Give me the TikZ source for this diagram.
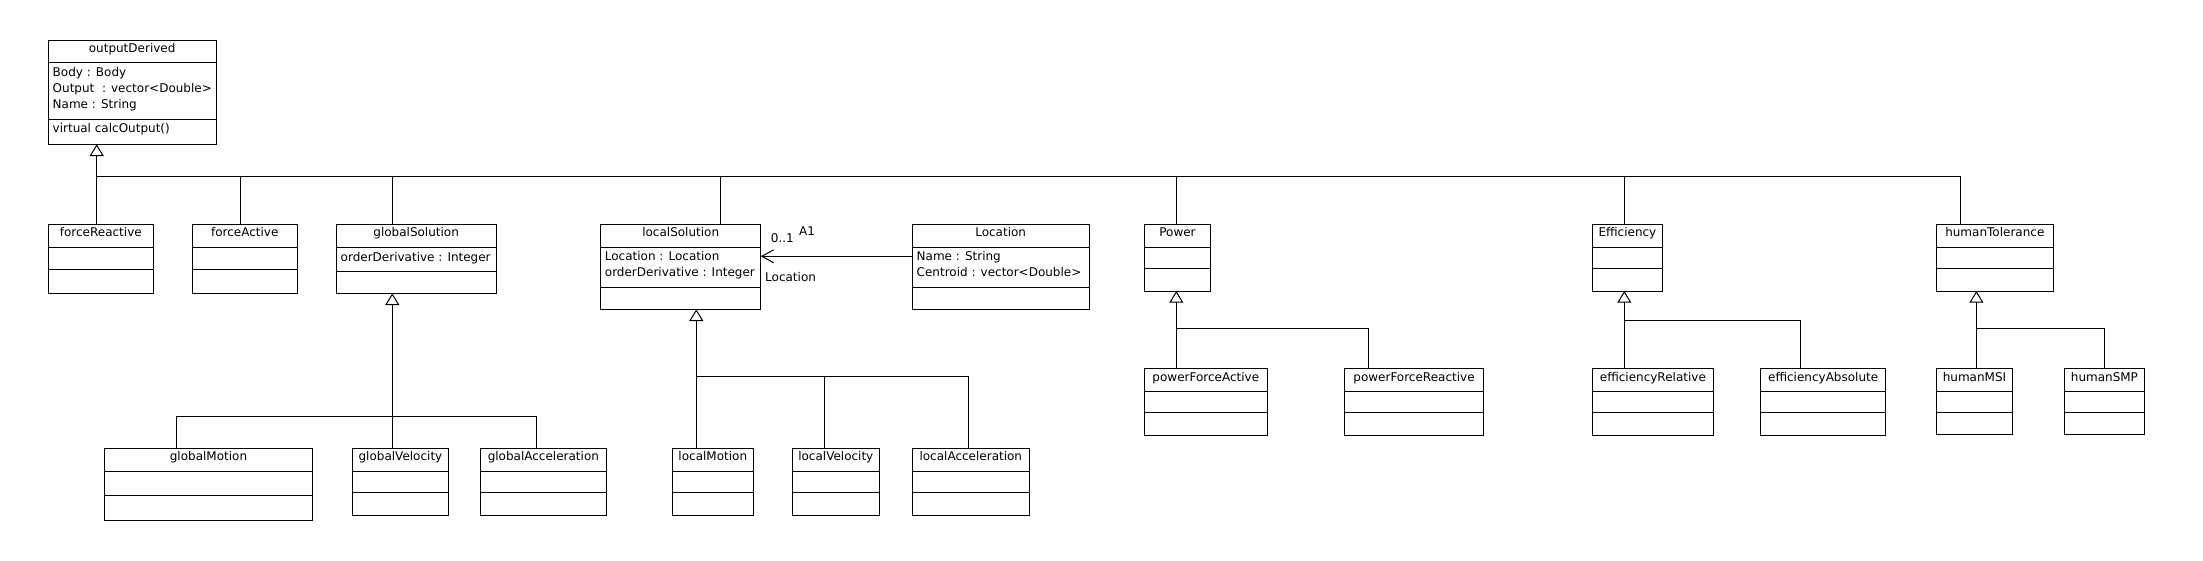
\documentclass[tikz,border=0pt]{standalone}
\usepackage{fontspec}
\newfontfamily\umlfont{DejaVu Sans}
\usetikzlibrary{arrows.meta}
\tikzset{
  cbox/.style={draw, line width=1pt, inner sep=0pt, outer sep=0pt, fill=white},
  ctitle/.style={anchor=base, inner sep=0pt, font={\umlfont\fontsize{12}{14}\selectfont}},
  cattr/.style={anchor=base west, inner sep=0pt, font={\umlfont\fontsize{12}{14}\selectfont}},
  sepline/.style={line width=1pt},
  conn/.style={line width=1pt},
  gen/.style={conn, -{Triangle[open,length=11.7pt,width=14pt]}},
  assoc/.style={conn, -{Straight Barb[length=12pt,width=13pt]}},
}
\newcommand\umlbox[8]{%
  \node[cbox, minimum width={#4-#2}, minimum height={#5-#3}] (#1) at ({(#2+#4)/2},{(#3+#5)/2}) {};
  \draw[sepline] (#2,#6) -- (#4,#6) (#2,#7) -- (#4,#7);
  \node[ctitle] (#1-title) at ({(#2+#4)/2},{#3+12.5}) {#8};
}
\newcommand\umlattr[4]{\node[cattr] (#1) at (#2,#3) {#4};}
\begin{document}
\begin{tikzpicture}[x=1pt,y=-1pt]
\fill[white] (0,0) rectangle (2203,560);
\useasboundingbox (0,0) rectangle (2203,560);

% classes
\umlbox{od}{48.3}{40}{216}{144.3}{62.7}{119.3}{outputDerived}
\umlattr{od-a1}{52.5}{76.2}{Body : Body}
\umlattr{od-a2}{52.5}{92.2}{Output\ \ : vector<Double>}
\umlattr{od-a3}{52.5}{108.2}{Name : String}
\umlattr{od-m1}{52.5}{132}{virtual calcOutput()}

\umlbox{fr}{48.3}{224.3}{153.3}{293.3}{247.3}{269.3}{forceReactive}
\umlbox{fa}{192.3}{224.3}{297.3}{293.3}{247.3}{269.3}{forceActive}
\umlbox{gs}{336.3}{224.3}{496}{293.3}{247.3}{271.7}{globalSolution}
\umlattr{gs-a1}{340.5}{261}{orderDerivative : Integer}
\umlbox{ls}{600.7}{224.3}{760.7}{309.3}{247}{287}{localSolution}
\umlattr{ls-a1}{604.7}{260.5}{Location : Location}
\umlattr{ls-a2}{604.7}{276.5}{orderDerivative : Integer}
\umlbox{loc}{912.3}{224.3}{1089}{309.3}{247}{287}{Location}
\umlattr{loc-a1}{916.5}{260.5}{Name : String}
\umlattr{loc-a2}{916.5}{276.5}{Centroid : vector<Double>}
\umlbox{pw}{1144.3}{224.3}{1210.7}{291}{247.3}{268.3}{Power}
\umlbox{ef}{1592.2}{224.3}{1662.6}{291}{247.3}{268.3}{Efficiency}
\umlbox{ht}{1936.2}{224.3}{2053.4}{291}{247.3}{268.3}{humanTolerance}

\umlbox{gm}{104.5}{448.3}{312.5}{520}{471}{495.7}{globalMotion}
\umlbox{gv}{352.4}{448.3}{448.5}{515.3}{471}{492.7}{globalVelocity}
\umlbox{ga}{480.2}{448.3}{606.5}{515.3}{471}{492.7}{globalAcceleration}
\umlbox{lm}{672.3}{448.3}{753.3}{515.3}{471}{492.3}{localMotion}
\umlbox{lv}{792.3}{448.3}{879.3}{515.3}{471}{492.3}{localVelocity}
\umlbox{la}{912.3}{448.3}{1029.3}{515.3}{471}{492.3}{localAcceleration}
\umlbox{pfa}{1144.3}{368.7}{1267.3}{435.3}{391.7}{412.3}{powerForceActive}
\umlbox{pfr}{1344.3}{368.7}{1483.7}{435.3}{391.7}{412.3}{powerForceReactive}
\umlbox{er}{1592.2}{368.7}{1713.5}{435.3}{391.7}{412.3}{efficiencyRelative}
\umlbox{ea}{1760.6}{368.7}{1885.7}{435.3}{391.7}{412.3}{efficiencyAbsolute}
\umlbox{hm}{1936.2}{368.7}{2012.8}{434}{391.7}{412.3}{humanMSI}
\umlbox{hs}{2064.8}{368.7}{2144}{434}{391.7}{412.3}{humanSMP}

% generalization: outputDerived
\coordinate (odb) at (96.7,176);
\draw[gen] (odb) -- (od.south -| 96.7,0);
\draw[conn] (96.7,0 |- fr.north) -- (odb);
\draw[conn] (240.3,0 |- fa.north) |- (odb);
\draw[conn] (392.3,0 |- gs.north) |- (odb);
\draw[conn] (720.3,0 |- ls.north) |- (odb);
\draw[conn] (1176.3,0 |- pw.north) |- (odb);
\draw[conn] (1624.3,0 |- ef.north) |- (odb);
\draw[conn] (1960.4,0 |- ht.north) |- (odb);

% globalSolution
\coordinate (gsb) at (392.3,416);
\draw[gen] (gsb) -- (gs.south -| 392.3,0);
\draw[conn] (176.4,0 |- gm.north) |- (gsb);
\draw[conn] (392.3,0 |- gv.north) -- (gsb);
\draw[conn] (536.6,0 |- ga.north) |- (gsb);

% localSolution
\coordinate (lsb) at (696.3,376.5);
\draw[gen] (lsb) -- (ls.south -| 696.3,0);
\draw[conn] (696.3,0 |- lm.north) -- (lsb);
\draw[conn] (824,0 |- lv.north) |- (lsb);
\draw[conn] (968.3,0 |- la.north) |- (lsb);

% Power
\coordinate (pwb) at (1176.3,328.3);
\draw[gen] (pwb) -- (pw.south -| 1176.3,0);
\draw[conn] (1176.3,0 |- pfa.north) -- (pwb);
\draw[conn] (1368.7,0 |- pfr.north) |- (pwb);

% Efficiency
\coordinate (efb) at (1624.3,320);
\draw[gen] (efb) -- (ef.south -| 1624.3,0);
\draw[conn] (1624.3,0 |- er.north) -- (efb);
\draw[conn] (1800.4,0 |- ea.north) |- (efb);

% humanTolerance
\coordinate (htb) at (1976.4,328.3);
\draw[gen] (htb) -- (ht.south -| 1976.4,0);
\draw[conn] (1976.4,0 |- hm.north) -- (htb);
\draw[conn] (2104.6,0 |- hs.north) |- (htb);

% association
\draw[assoc] (loc.west |- 0,256.3) -- (ls.east |- 0,256.3);
\node[cattr] (mult) at (770.7,242.3) {0..1};
\node[cattr] (aname) at (799,235.7) {A1};
\node[cattr] (role) at (765,281) {Location};
\end{tikzpicture}
\end{document}
